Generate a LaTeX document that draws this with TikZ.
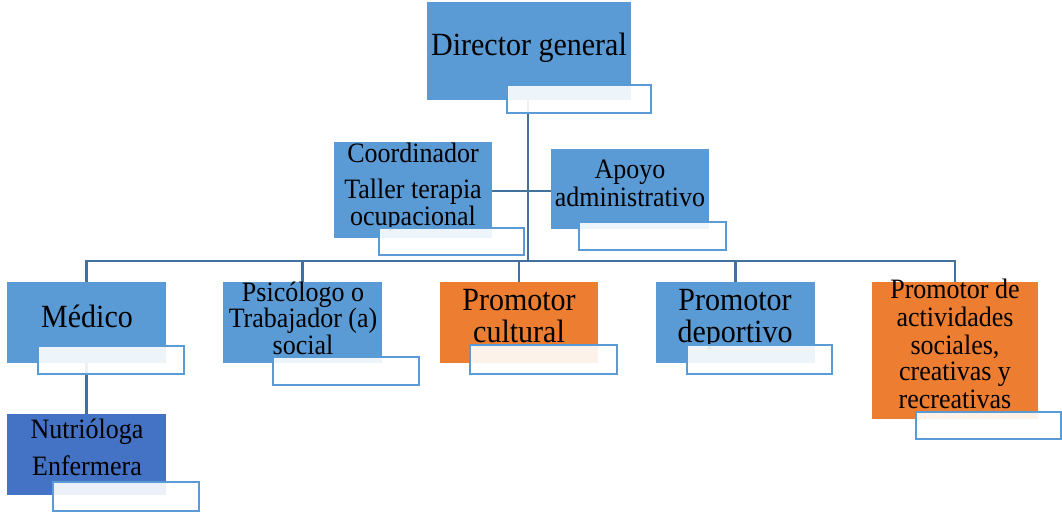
\documentclass[tikz,border=0pt]{standalone}
\usepackage{fontspec}
\setmainfont{Liberation Serif}
\definecolor{mblue}{HTML}{5B9BD5}
\definecolor{morange}{HTML}{ED7D31}
\definecolor{dblue}{HTML}{4472C4}
\definecolor{lncol}{HTML}{41719C}
\newcommand\TT[1]{\scalebox{1}[1.08]{#1}}
\pgfdeclarelayer{bg}
\pgfsetlayers{bg,main}
\tikzset{
  bx/.style={anchor=north west, inner sep=0pt, outer sep=0pt, draw=none},
  lbl/.style={anchor=north west, inner sep=0pt, outer sep=0pt, draw=mblue, line width=2pt, fill=white, fill opacity=0.9},
  conn/.style={draw=lncol, line width=2.8pt},
  big/.style={anchor=base, inner sep=0pt, font=\fontsize{30}{34}\selectfont},
  sm/.style={anchor=base, inner sep=0pt, font=\fontsize{26}{30}\selectfont},
}
\begin{document}
\begin{tikzpicture}[x=1pt,y=-1pt]
\useasboundingbox (0,0) rectangle (1062,512);
% boxes
\node[bx, fill=mblue, minimum width=204pt, minimum height=98pt] (dir) at (427,2) {};
\node[bx, fill=mblue, minimum width=158pt, minimum height=96pt] (coord) at (334,142) {};
\node[bx, fill=mblue, minimum width=158pt, minimum height=80pt] (apo) at (551,149) {};
\node[bx, fill=mblue, minimum width=159pt, minimum height=81pt] (med) at (7,282) {};
\node[bx, fill=mblue, minimum width=159pt, minimum height=81pt] (psi) at (223,282) {};
\node[bx, fill=morange, minimum width=158pt, minimum height=81pt] (cul) at (440,282) {};
\node[bx, fill=mblue, minimum width=159pt, minimum height=81pt] (dep) at (656,282) {};
\node[bx, fill=morange, minimum width=166pt, minimum height=137pt] (act) at (872,282) {};
\node[bx, fill=dblue, minimum width=159pt, minimum height=81pt] (nut) at (7,414) {};
% coordinates for connectors
\coordinate (bus) at (528,261);
\coordinate (hc) at (528,191);
\begin{pgfonlayer}{bg}
\draw[conn] (bus |- dir.south) -- (bus);
\draw[conn] (coord.east |- hc) -- (apo.west |- hc);
\draw[conn] (med.north) -- (med.north |- bus) -- (act.north |- bus) -- (act.north);
\draw[conn] (psi.north) -- (psi.north |- bus);
\draw[conn] (cul.north) -- (cul.north |- bus);
\draw[conn] (dep.north) -- (dep.north |- bus);
\draw[conn] (med.south) -- (nut.north);
\end{pgfonlayer}
% texts
\node[big] (t1) at (529,55) {\TT{Director general}};
\node[sm] (t2) at (413,162) {\TT{Coordinador}};
\node[sm] (t3) at (413,198) {\TT{Taller terapia}};
\node[sm] (t4) at (413,225) {\TT{ocupacional}};
\node[sm] (t5) at (630,178) {\TT{Apoyo}};
\node[sm] (t6) at (630,206) {\TT{administrativo}};
\node[big] (t7) at (87,327) {\TT{Médico}};
\node[sm] (t8) at (303,301) {\TT{Psicólogo o}};
\node[sm] (t9) at (303,327) {\TT{Trabajador (a)}};
\node[sm] (t10) at (303,354) {\TT{social}};
\node[big] (t11) at (519,310) {\TT{Promotor}};
\node[big] (t12) at (519,342) {\TT{cultural}};
\node[big] (t13) at (735,310) {\TT{Promotor}};
\node[big] (t14) at (735,342) {\TT{deportivo}};
\node[sm] (t15) at (955,298) {\TT{Promotor de}};
\node[sm] (t16) at (955,326) {\TT{actividades}};
\node[sm] (t17) at (955,354) {\TT{sociales,}};
\node[sm] (t18) at (955,380) {\TT{creativas y}};
\node[sm] (t19) at (955,408) {\TT{recreativas}};
\node[sm] (t20) at (87,438) {\TT{Nutrióloga}};
\node[sm] (t21) at (87,475) {\TT{Enfermera}};
% label boxes
\node[lbl, minimum width=144pt, minimum height=28pt] (dirl) at (507,85) {};
\node[lbl, minimum width=145pt, minimum height=27pt] (coordl) at (379,228) {};
\node[lbl, minimum width=147pt, minimum height=28pt] (apol) at (579,222) {};
\node[lbl, minimum width=146pt, minimum height=28pt] (medl) at (38,346) {};
\node[lbl, minimum width=146pt, minimum height=28pt] (psil) at (273,357) {};
\node[lbl, minimum width=147pt, minimum height=29pt] (cull) at (470,345) {};
\node[lbl, minimum width=145pt, minimum height=29pt] (depl) at (687,345) {};
\node[lbl, minimum width=145pt, minimum height=27pt] (actl) at (916,412) {};
\node[lbl, minimum width=146pt, minimum height=29pt] (nutl) at (53,482) {};
\end{tikzpicture}
\end{document}
